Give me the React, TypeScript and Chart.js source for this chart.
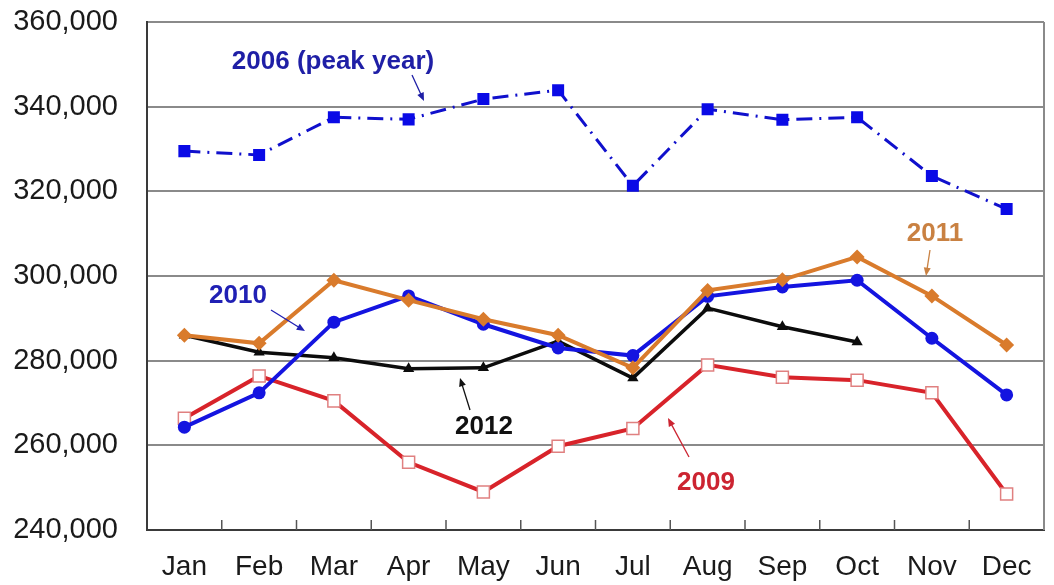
import { useEffect, useRef } from "react";
import { Chart, registerables } from "chart.js";

Chart.register(...registerables);

// Monthly figures by year
const months = ["Jan", "Feb", "Mar", "Apr", "May", "Jun", "Jul", "Aug", "Sep", "Oct", "Nov", "Dec"];
const yTickValues = [240000, 260000, 280000, 300000, 320000, 340000, 360000];

const y2006 = [329500, 328600, 337500, 337000, 341800, 343900, 321300, 339400, 336900, 337500, 323600, 315800];
const y2009 = [266400, 276400, 270500, 256000, 249000, 259800, 264000, 279000, 276100, 275400, 272400, 248500];
const y2010 = [264300, 272400, 289100, 295300, 288600, 283000, 281200, 295200, 297400, 299000, 285300, 271900];
const y2011 = [286000, 284100, 299000, 294300, 289800, 286000, 278300, 296600, 299100, 304500, 295300, 283700];
const y2012 = [286000, 282000, 280700, 278100, 278300, 284600, 275900, 292400, 288000, 284400, null, null];

// Callout labels: text, colour, label centre, arrow start and arrow tip (pixels)
const callouts = [
  { text: "2006 (peak year)", color: "#1f1fa6", x: 333, y: 62, ax: 412, ay: 75, bx: 424, by: 101 },
  { text: "2010", color: "#2020b4", x: 238, y: 296, ax: 271, ay: 310, bx: 305, by: 331 },
  { text: "2011", color: "#c98142", x: 935, y: 234, ax: 930, ay: 250, bx: 926, by: 276 },
  { text: "2012", color: "#111111", x: 484, y: 427, ax: 470, ay: 410, bx: 460, by: 378 },
  { text: "2009", color: "#cc2431", x: 706, y: 483, ax: 689, ay: 457, bx: 668, by: 418 },
];

const FONT = "'Liberation Sans', Arial, Helvetica, sans-serif";

const framePlugin = {
  id: "frameAndCallouts",
  beforeDatasetsDraw(chart: any) {
    const { ctx, chartArea } = chart;
    const xs = chart.scales.x;
    ctx.save();
    // right border
    ctx.strokeStyle = "#8a8a8a";
    ctx.lineWidth = 2;
    ctx.beginPath();
    ctx.moveTo(chartArea.right, chartArea.top);
    ctx.lineTo(chartArea.right, chartArea.bottom);
    ctx.stroke();
    // inward tick marks between categories
    ctx.strokeStyle = "#555";
    ctx.lineWidth = 1.5;
    for (let i = 1; i < months.length; i++) {
      const px = (xs.getPixelForValue(i - 1) + xs.getPixelForValue(i)) / 2;
      ctx.beginPath();
      ctx.moveTo(px, chartArea.bottom);
      ctx.lineTo(px, chartArea.bottom - 10);
      ctx.stroke();
    }
    ctx.restore();
  },
  afterDatasetsDraw(chart: any) {
    const { ctx } = chart;
    ctx.save();
    for (const c of callouts) {
      ctx.font = `bold 26px ${FONT}`;
      ctx.fillStyle = c.color;
      ctx.textAlign = "center";
      ctx.textBaseline = "middle";
      ctx.fillText(c.text, c.x, c.y);
      // arrow
      ctx.strokeStyle = c.color;
      ctx.fillStyle = c.color;
      ctx.lineWidth = 1.3;
      const ang = Math.atan2(c.by - c.ay, c.bx - c.ax);
      const head = 9;
      ctx.beginPath();
      ctx.moveTo(c.ax, c.ay);
      ctx.lineTo(c.bx - Math.cos(ang) * head * 0.8, c.by - Math.sin(ang) * head * 0.8);
      ctx.stroke();
      ctx.beginPath();
      ctx.moveTo(c.bx, c.by);
      ctx.lineTo(c.bx - Math.cos(ang - 0.4) * head, c.by - Math.sin(ang - 0.4) * head);
      ctx.lineTo(c.bx - Math.cos(ang + 0.4) * head, c.by - Math.sin(ang + 0.4) * head);
      ctx.closePath();
      ctx.fill();
    }
    ctx.restore();
  },
};

export default function App() {
  const canvasRef = useRef<HTMLCanvasElement | null>(null);

  useEffect(() => {
    document.body.style.margin = "0";
    const canvas = canvasRef.current;
    if (!canvas) return;
    const chart = new Chart(canvas, {
      type: "line",
      data: {
        labels: months,
        datasets: [
          {
            label: "2006",
            data: y2006,
            borderColor: "#1010cc",
            backgroundColor: "#0a0ae6",
            borderWidth: 3,
            borderDash: [16, 7, 2, 7],
            pointStyle: "rect",
            pointRadius: 8.5,
            pointBorderWidth: 0,
            order: 4,
          },
          {
            label: "2011",
            data: y2011,
            borderColor: "#d97b2c",
            backgroundColor: "#d97b2c",
            borderWidth: 4,
            pointStyle: "rectRot",
            pointRadius: 7.5,
            pointBorderWidth: 0,
            order: 0,
          },
          {
            label: "2010",
            data: y2010,
            borderColor: "#1414e0",
            backgroundColor: "#1414e0",
            borderWidth: 4,
            pointStyle: "circle",
            pointRadius: 6.5,
            pointBorderWidth: 0,
            order: 1,
          },
          {
            label: "2012",
            data: y2012,
            borderColor: "#0c0c0c",
            backgroundColor: "#0c0c0c",
            borderWidth: 3.5,
            pointStyle: "triangle",
            pointRadius: 6.5,
            pointBorderWidth: 0,
            spanGaps: false,
            order: 2,
          },
          {
            label: "2009",
            data: y2009,
            borderColor: "#d8232a",
            backgroundColor: "#ffffff",
            pointBorderColor: "#e08080",
            borderWidth: 4,
            pointStyle: "rect",
            pointRadius: 8.5,
            pointBorderWidth: 1.5,
            order: 3,
          },
        ],
      },
      options: {
        animation: false,
        responsive: false,
        maintainAspectRatio: false,
        layout: { padding: { top: 22, right: 8, left: 0, bottom: 0 } },
        plugins: {
          legend: { display: false },
          tooltip: { enabled: false },
          title: { display: false },
        },
        elements: { line: { tension: 0 } },
        scales: {
          x: {
            offset: true,
            grid: { display: false, drawTicks: false },
            border: { display: true, color: "#3a3a3a", width: 2 },
            ticks: {
              color: "#1a1a1a",
              font: { family: FONT, size: 28 },
              padding: 20,
              maxRotation: 0,
              autoSkip: false,
            },
            afterFit(scale: any) {
              scale.height = 55;
              scale.paddingLeft = 0;
              scale.paddingRight = 0;
            },
          },
          y: {
            min: 240000,
            max: 360000,
            afterBuildTicks(scale: any) {
              scale.ticks = yTickValues.map((v) => ({ value: v }));
            },
            grid: { color: "#8a8a8a", lineWidth: 2, drawTicks: false },
            border: { display: true, color: "#3a3a3a", width: 2 },
            ticks: {
              color: "#1a1a1a",
              font: { family: FONT, size: 29 },
              padding: 29,
              callback: (v: any) => Number(v).toLocaleString("en-US"),
            },
            afterFit(scale: any) {
              scale.width = 147;
              scale.paddingTop = 0;
              scale.paddingBottom = 0;
            },
          },
        },
      },
      plugins: [framePlugin],
    });
    return () => chart.destroy();
  }, []);

  return (
    <div style={{ position: "fixed", left: 0, top: 0, width: 1054, height: 585, background: "#fff" }}>
      <canvas ref={canvasRef} width={1054} height={585} style={{ width: 1054, height: 585 }} />
    </div>
  );
}
